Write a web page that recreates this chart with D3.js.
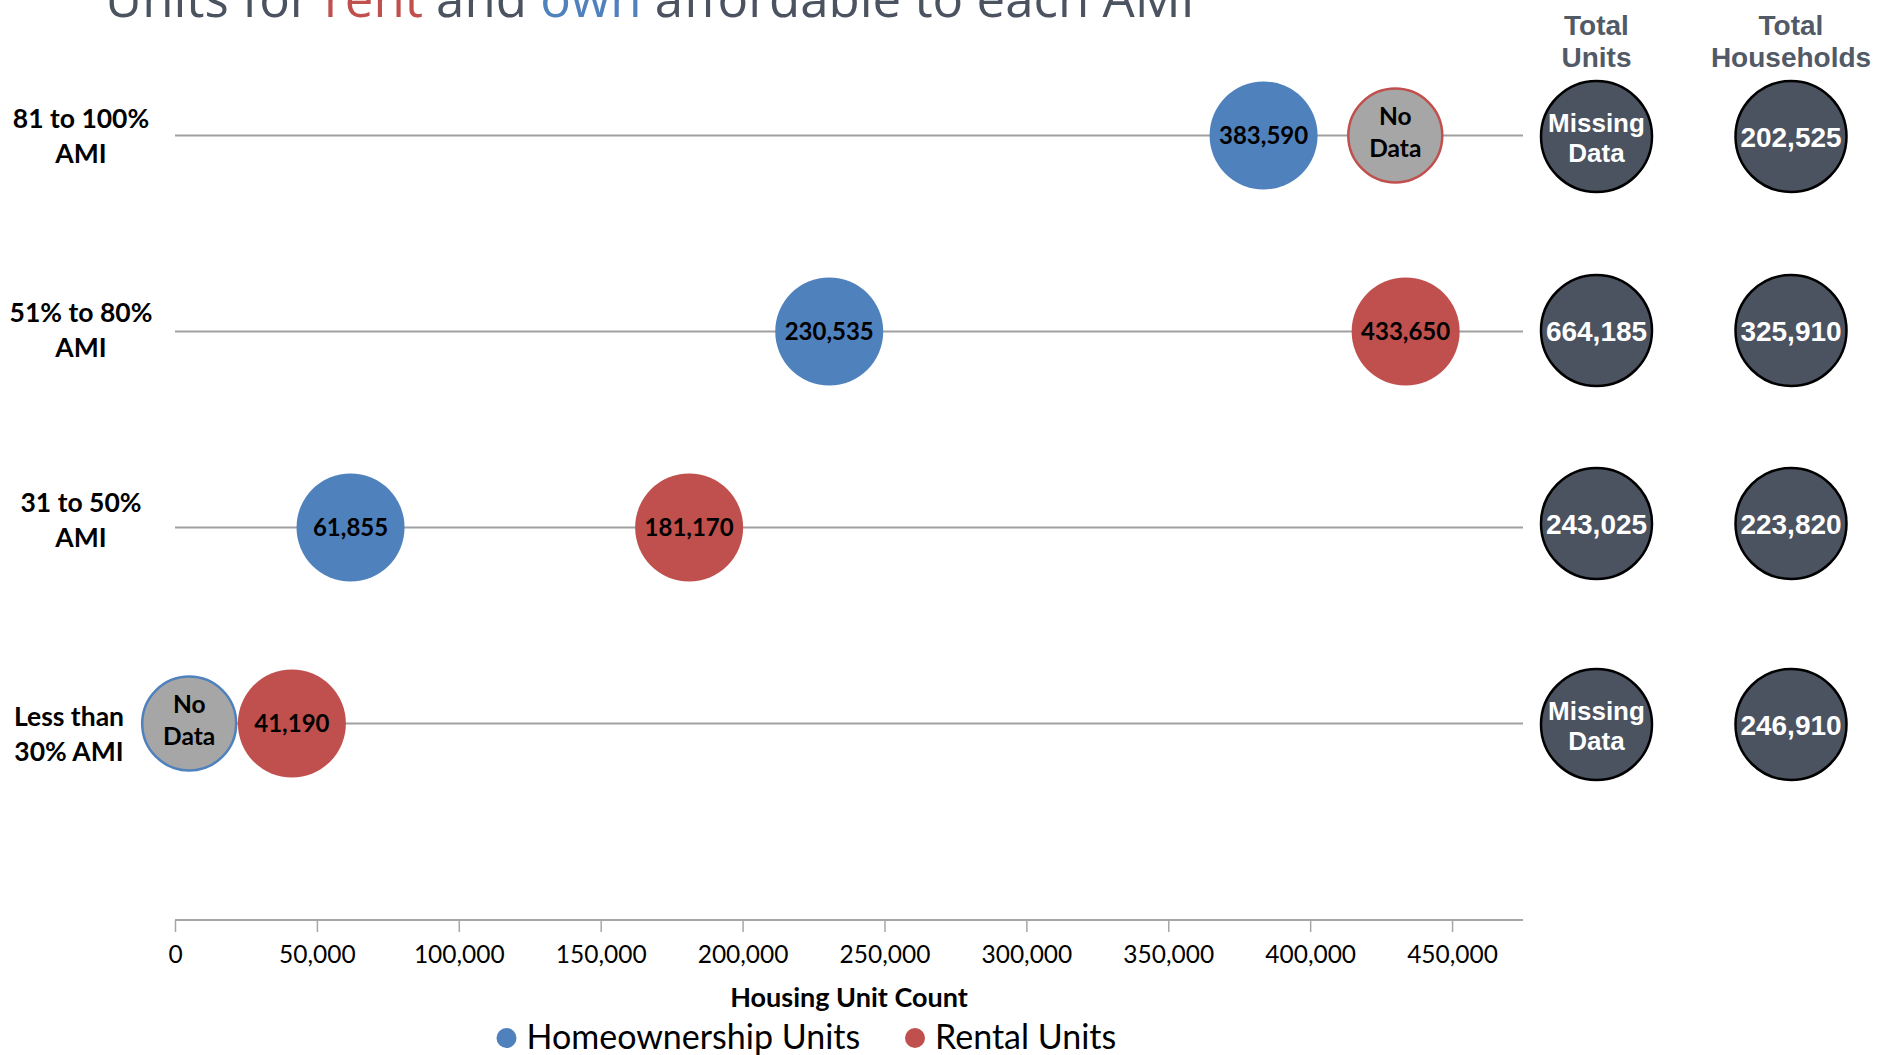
<!DOCTYPE html>
<html>
<head>
<meta charset="utf-8">
<script src="https://cdn.jsdelivr.net/npm/d3@7"></script>
<style>
  html, body { margin: 0; padding: 0; background: #ffffff; }
  svg { display: block; }
</style>
</head>
<body>
<svg id="chart" width="1878" height="1055"></svg>
<script>
// AMI bands, top row first
const categories = ["81 to 100% AMI", "51% to 80% AMI", "31 to 50% AMI", "Less than 30% AMI"];
const categoryLabelLines = [["81 to 100%", "AMI"], ["51% to 80%", "AMI"], ["31 to 50%", "AMI"], ["Less than", "30% AMI"]];

// Units affordable in each band (null = no data for that band)
const homeownershipUnits = [383590, 230535, 61855, null];
const rentalUnits = [null, 433650, 181170, 41190];

// Axis position where the "No Data" placeholder bubble is shown
const homeownershipNoDataAt = [null, null, null, 5000];
const rentalNoDataAt = [430000, null, null, null];

// Totals shown in the right-hand columns (null = missing)
const totalUnits = [null, 664185, 243025, null];
const totalHouseholds = [202525, 325910, 223820, 246910];

const xTickValues = [0, 50000, 100000, 150000, 200000, 250000, 300000, 350000, 400000, 450000];
const xMax = 475000;

const seriesNames = ["Homeownership Units", "Rental Units"];
const titleParts = [["Units for ", "#4b5260"], ["rent", "#c0504d"], [" and ", "#4b5260"], ["own", "#4f81bd"], [" affordable to each AMI", "#4b5260"]];

const BLUE = "#4f81bd", RED = "#c0504d", GRAY = "#a6a6a6", DARK = "#4b5260";
const fmt = d3.format(",");

const svg = d3.select("#chart");

const x = d3.scaleLinear().domain([0, xMax]).range([175, 1523]);
const y = d3.scalePoint().domain(categories).range([135.5, 723.5]);
const axisY = 920;

// Title (runs off the top edge of the frame)
const title = svg.append("text")
  .attr("x", 105).attr("y", 17)
  .attr("font-family", "Open Sans, sans-serif")
  .attr("font-size", 48);
titleParts.forEach(([t, c]) => title.append("tspan").attr("fill", c).text(t));
const titleW = title.node().getComputedTextLength();
title.attr("font-size", 48 * 1090 / titleW);

// Row guide lines
svg.append("g").selectAll("line").data(categories).join("line")
  .attr("x1", x(0)).attr("x2", x(xMax))
  .attr("y1", d => y(d)).attr("y2", d => y(d))
  .attr("stroke", "#a0a0a0").attr("stroke-width", 2);

// Category labels (two lines each; per-row nudges follow the label box layout)
const labelDy = [-8, -10, -16, 2];
const labelX = [81, 81, 81, 69];
const lab = svg.append("g")
  .attr("font-family", "Lato, sans-serif").attr("font-weight", 700)
  .attr("font-size", 26.5).attr("fill", "#000").attr("text-anchor", "middle");
categories.forEach((c, i) => {
  const t = lab.append("text").attr("x", labelX[i]).attr("y", y(c) + labelDy[i]);
  categoryLabelLines[i].forEach((line, j) => {
    t.append("tspan").attr("x", labelX[i]).attr("dy", j === 0 ? 0 : 35.5).text(line);
  });
});

// X axis
const xAxis = d3.axisBottom(x).tickValues(xTickValues).tickFormat(fmt).tickSize(12).tickPadding(14);
const gx = svg.append("g").attr("transform", `translate(0,${axisY})`).call(xAxis);
gx.select(".domain").attr("stroke", "#a6a6a6").attr("stroke-width", 2)
  .attr("d", `M${x(0)},0H${x(xMax)}`);
gx.selectAll(".tick line").attr("stroke", "#a6a6a6").attr("stroke-width", 1.5);
gx.selectAll(".tick text").attr("font-family", "Lato, sans-serif").attr("font-size", 24.5)
  .attr("fill", "#000");

svg.append("text")
  .attr("x", (x(0) + x(xMax)) / 2).attr("y", 1007)
  .attr("text-anchor", "middle")
  .attr("font-family", "Lato, sans-serif").attr("font-weight", 700).attr("font-size", 27)
  .attr("fill", "#000")
  .text("Housing Unit Count");

// Bubbles
const R = 54, RN = 47;
const bubbles = svg.append("g");

function valueBubble(v, cat, fill) {
  bubbles.append("circle").attr("cx", x(v)).attr("cy", y(cat)).attr("r", R).attr("fill", fill);
  bubbles.append("text").attr("x", x(v)).attr("y", y(cat) + 8)
    .attr("text-anchor", "middle")
    .attr("font-family", "Lato, sans-serif").attr("font-weight", 700).attr("font-size", 24)
    .attr("fill", "#000").text(fmt(v));
}
function noDataBubble(v, cat, stroke) {
  bubbles.append("circle").attr("cx", x(v)).attr("cy", y(cat)).attr("r", RN)
    .attr("fill", GRAY).attr("stroke", stroke).attr("stroke-width", 2.5);
  const t = bubbles.append("text").attr("text-anchor", "middle")
    .attr("font-family", "Lato, sans-serif").attr("font-weight", 700).attr("font-size", 24.5)
    .attr("fill", "#000");
  t.append("tspan").attr("x", x(v)).attr("y", y(cat) - 11).text("No");
  t.append("tspan").attr("x", x(v)).attr("y", y(cat) + 21).text("Data");
}

categories.forEach((c, i) => {
  if (homeownershipUnits[i] != null) valueBubble(homeownershipUnits[i], c, BLUE);
  if (homeownershipNoDataAt[i] != null) noDataBubble(homeownershipNoDataAt[i], c, BLUE);
  if (rentalUnits[i] != null) valueBubble(rentalUnits[i], c, RED);
  if (rentalNoDataAt[i] != null) noDataBubble(rentalNoDataAt[i], c, RED);
});

// Totals columns
const totalCols = [
  { cx: 1596.5, head: ["Total", "Units"], values: totalUnits },
  { cx: 1791, head: ["Total", "Households"], values: totalHouseholds }
];
const rowCircleDy = [1, -1, -4, 1];
const tot = svg.append("g").attr("font-family", "Liberation Sans, Arial, sans-serif")
  .attr("font-weight", 700).attr("text-anchor", "middle");
totalCols.forEach(col => {
  const h = tot.append("text").attr("font-size", 28).attr("fill", "#515a66");
  h.append("tspan").attr("x", col.cx).attr("y", 35).text(col.head[0]);
  h.append("tspan").attr("x", col.cx).attr("y", 67).text(col.head[1]);
  categories.forEach((c, i) => {
    const cy = y(c) + rowCircleDy[i];
    tot.append("circle").attr("cx", col.cx).attr("cy", cy).attr("r", 55.5)
      .attr("fill", DARK).attr("stroke", "#000").attr("stroke-width", 2.5);
    const v = col.values[i];
    if (v == null) {
      const t = tot.append("text").attr("font-size", 26).attr("fill", "#fff");
      t.append("tspan").attr("x", col.cx).attr("y", cy - 5).text("Missing");
      t.append("tspan").attr("x", col.cx).attr("y", cy + 25).text("Data");
    } else {
      tot.append("text").attr("x", col.cx).attr("y", cy + 10)
        .attr("font-size", 28).attr("fill", "#fff").text(fmt(v));
    }
  });
});

// Legend
const legend = svg.append("g").attr("font-family", "Lato, sans-serif").attr("font-size", 34).attr("fill", "#000");
const legendX = [506.5, 915];
seriesNames.forEach((name, i) => {
  legend.append("circle").attr("cx", legendX[i]).attr("cy", 1038).attr("r", 10)
    .attr("fill", i === 0 ? BLUE : RED);
  legend.append("text").attr("x", legendX[i] + 20).attr("y", 1049).text(name);
});
</script>
</body>
</html>
